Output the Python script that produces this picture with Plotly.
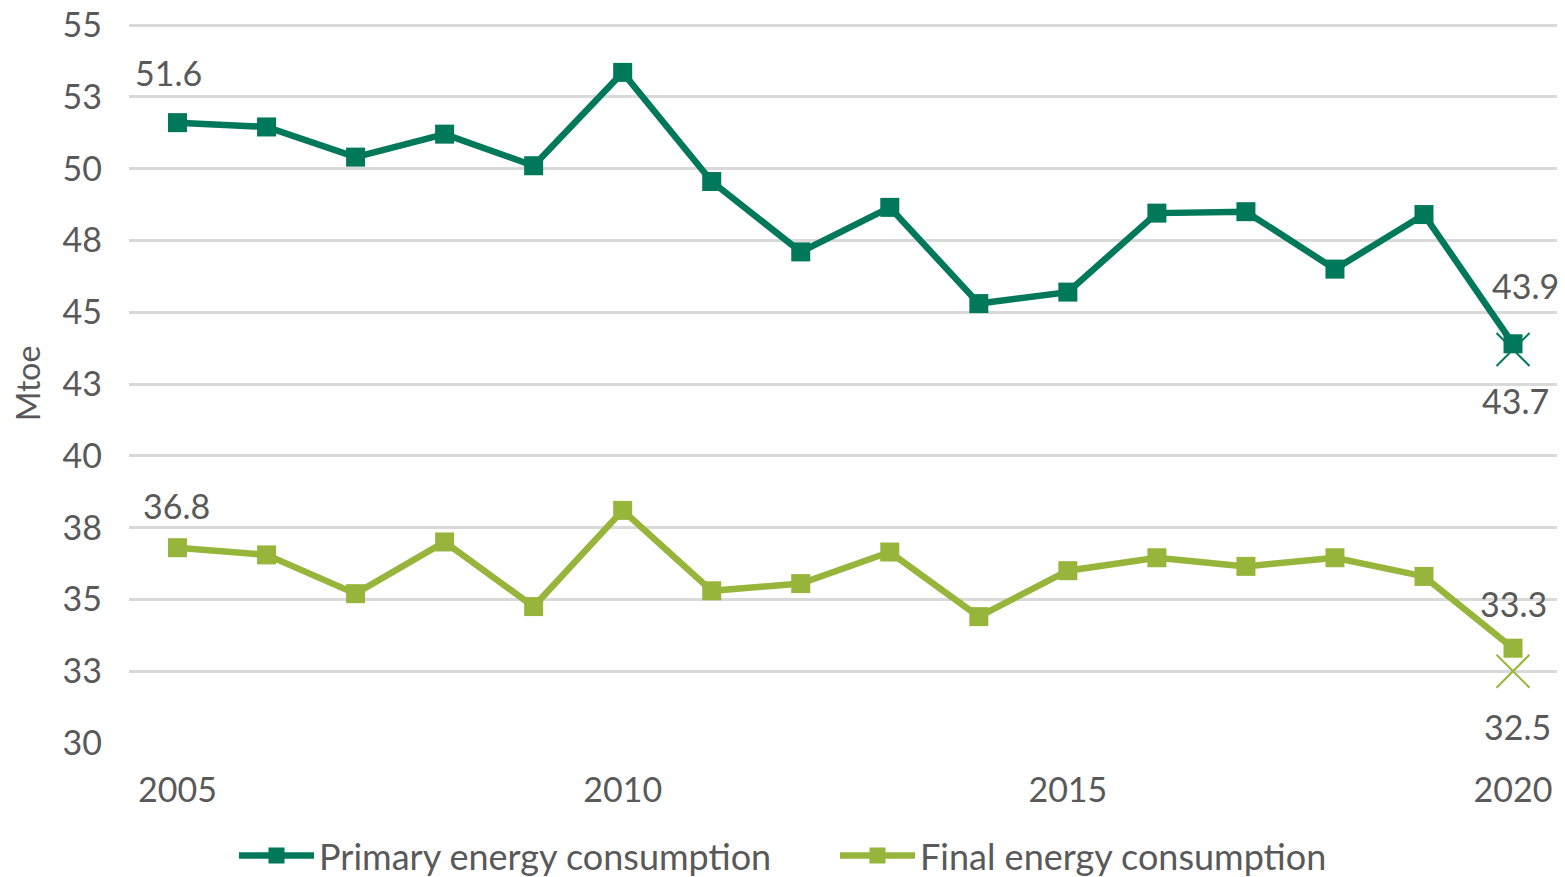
import plotly.graph_objects as go

years = list(range(2005, 2021))
primary = [51.6, 51.45, 50.4, 51.2, 50.1, 53.35, 49.55, 47.1, 48.65, 45.3, 45.7, 48.45, 48.5, 46.5, 48.4, 43.9]
final = [36.8, 36.55, 35.2, 37.0, 34.75, 38.1, 35.3, 35.55, 36.65, 34.4, 36.0, 36.45, 36.15, 36.45, 35.8, 33.3]
target_year = 2020
primary_target = 43.7
final_target = 32.5

ytick_vals = [30, 32.5, 35, 37.5, 40, 42.5, 45, 47.5, 50, 52.5, 55]
ytick_text = ["30", "33", "35", "38", "40", "43", "45", "48", "50", "53", "55"]
xtick_vals = [2005, 2010, 2015, 2020]

DARK = "#00785A"
LIGHT = "#97B53A"
TXT = "#595959"
FONT = "Lato"
FS = 34

fig = go.Figure()
fig.add_trace(go.Scatter(x=years, y=primary, mode="lines+markers", name="Primary energy consumption",
                         line=dict(color=DARK, width=6.5),
                         marker=dict(symbol="square", size=19, color=DARK)))
fig.add_trace(go.Scatter(x=years, y=final, mode="lines+markers", name="Final energy consumption",
                         line=dict(color=LIGHT, width=6.5),
                         marker=dict(symbol="square", size=19, color=LIGHT)))
fig.add_trace(go.Scatter(x=[target_year], y=[primary_target], mode="markers", showlegend=False,
                         marker=dict(symbol="x-thin", size=33, line=dict(color=DARK, width=2))))
fig.add_trace(go.Scatter(x=[target_year], y=[final_target], mode="markers", showlegend=False,
                         marker=dict(symbol="x-thin", size=33, line=dict(color=LIGHT, width=2))))

def lab(x, y, text, xs, ys):
    fig.add_annotation(x=x, y=y, text=text, showarrow=False, xshift=xs, yshift=ys,
                       font=dict(family=FONT, size=FS, color=TXT))

lab(years[0], primary[0], f"{primary[0]:.1f}", -9, 50)
lab(years[-1], primary[-1], f"{primary[-1]:.1f}", 12, 58)
lab(target_year, primary_target, f"{primary_target:.1f}", 2, -51)
lab(years[0], final[0], f"{final[0]:.1f}", -1, 42)
lab(years[-1], final[-1], f"{final[-1]:.1f}", 0, 45)
lab(target_year, final_target, f"{final_target:.1f}", 4, -55)

fig.update_layout(
    width=1565, height=877,
    margin=dict(l=129, r=8, t=24, b=134, autoexpand=False),
    paper_bgcolor="white", plot_bgcolor="white",
    font=dict(family=FONT, color=TXT, size=FS),
    showlegend=True,
    legend=dict(orientation="h", x=(234 - 129) / 1428, xanchor="left", y=-0.115, yanchor="top",
                font=dict(family=FONT, size=36, color=TXT), itemwidth=75,
                entrywidth=511, entrywidthmode="pixels", tracegroupgap=0),
    xaxis=dict(range=[2004.455, 2020.494], tickvals=xtick_vals, showgrid=False, zeroline=False,
               showline=False, ticks="", tickfont=dict(size=FS, color=TXT), ticklabelstandoff=24,
               automargin=False),
    yaxis=dict(range=[30, 55.035], tickvals=ytick_vals, ticktext=ytick_text, showgrid=True,
               gridcolor="#D9D9D9", gridwidth=2.5, zeroline=False, showline=False, ticks="",
               tickfont=dict(size=FS, color=TXT), ticklabelstandoff=26, automargin=False,
               ticklabeloverflow="allow",
               title=dict(text="Mtoe", font=dict(size=32, color=TXT), standoff=12)),
)

fig.write_html("out.html", config={"displayModeBar": False},
               post_script="document.body.style.margin='0';document.body.style.overflow='hidden';")
